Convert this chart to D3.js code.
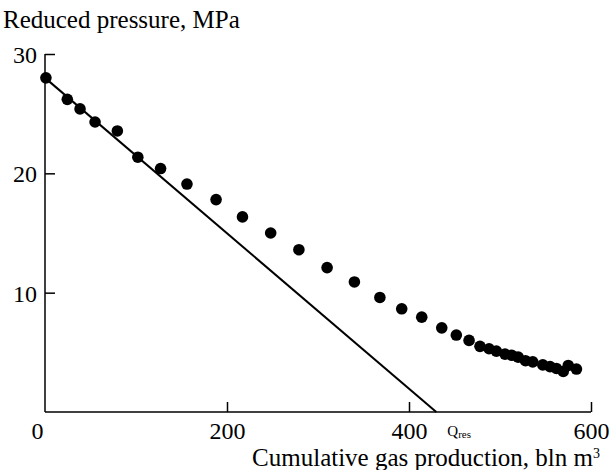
<!DOCTYPE html>
<html>
<head>
<meta charset="utf-8">
<script src="https://cdn.jsdelivr.net/npm/d3@7"></script>
<style>
  html, body { margin: 0; padding: 0; background: #fff; }
  svg { display: block; }
  text { font-family: "Liberation Serif", "Times New Roman", serif; fill: #000; }
</style>
</head>
<body>
<svg id="chart" width="613" height="470"></svg>
<script>
// ---- data ----
const production = [1, 24.5, 38.5, 55, 79.5, 102, 127, 156, 188, 217, 248, 279, 310, 340, 368, 392, 414, 436, 452, 466, 478, 488, 496, 505.5, 513, 520, 528, 536, 547, 555, 562, 569.5, 575, 584];
const pressure   = [28.0, 26.2, 25.4, 24.3, 23.55, 21.35, 20.4, 19.1, 17.8, 16.35, 15.0, 13.6, 12.1, 10.9, 9.6, 8.65, 7.95, 7.05, 6.45, 6.0, 5.5, 5.3, 5.1, 4.85, 4.75, 4.6, 4.3, 4.2, 3.95, 3.8, 3.65, 3.4, 3.9, 3.6];
const lineX = [0, 430];
const lineY = [28, 0];
const xTicks = [0, 200, 400, 600];
const yTicks = [10, 20, 30];
const yTitle = "Reduced pressure, MPa";
const xTitle = "Cumulative gas production, bln m";
const qLabel = "Q";
const qSub = "res";

// ---- layout ----
const svg = d3.select("#chart");
const x = d3.scaleLinear().domain([0, 600]).range([45, 591]);
const y = d3.scaleLinear().domain([0, 30]).range([412, 54]);

// axes
const xAxis = d3.axisBottom(x).tickValues(xTicks).tickSizeInner(-10).tickSizeOuter(0).tickPadding(18);
const gx = svg.append("g").attr("transform", `translate(0,${y(0)})`).call(xAxis);
const yAxis = d3.axisLeft(y).tickValues(yTicks).tickSizeInner(-10).tickSizeOuter(0).tickPadding(18);
const gy = svg.append("g").attr("transform", `translate(${x(0)},0)`).call(yAxis);

[gx, gy].forEach(g => {
  g.select(".domain").attr("stroke", "#000").attr("stroke-width", 1.5);
  g.selectAll(".tick line").attr("stroke", "#000").attr("stroke-width", 1.5);
  g.selectAll(".tick text").style("font-family", "'Liberation Serif', serif").style("font-size", "24px").attr("fill", "#000");
});
gx.selectAll(".tick text").attr("dy", "0.71em").attr("y", 10);
gy.selectAll(".tick text").attr("x", -8).attr("dy", "0.36em");
gx.select(".domain").attr("d", `M${x(0)},0H${x(600)}`);
gy.select(".domain").attr("d", `M0,${y(0)}V${y(30)}`);
// put the "0" label left of the axis
gx.selectAll(".tick").filter(d => d === 0).select("text").attr("text-anchor", "end").attr("x", -2);
gx.selectAll(".tick").filter(d => d === 0).select("line").remove();

// theoretical line
svg.append("line")
  .attr("x1", x(lineX[0])).attr("y1", y(lineY[0]))
  .attr("x2", x(lineX[1])).attr("y2", y(lineY[1]))
  .attr("stroke", "#000").attr("stroke-width", 2);

// points
svg.append("g").selectAll("circle")
  .data(production.map((p, i) => [p, pressure[i]]))
  .join("circle")
  .attr("cx", d => x(d[0])).attr("cy", d => y(d[1]))
  .attr("r", 5.8).attr("fill", "#000");

// titles
svg.append("text").attr("x", 3).attr("y", 28)
  .style("font-size", "25px").text(yTitle);

const xt = svg.append("text").attr("x", 600).attr("y", 466).attr("text-anchor", "end")
  .style("font-size", "25px");
xt.append("tspan").text(xTitle);
xt.append("tspan").attr("dy", -8).style("font-size", "14px").text("3");

const q = svg.append("text").attr("x", x(lineX[1]) + 11).attr("y", 436).style("font-size", "15px");
q.append("tspan").text(qLabel);
q.append("tspan").attr("dy", 2).style("font-size", "11px").text(qSub);
</script>
</body>
</html>
